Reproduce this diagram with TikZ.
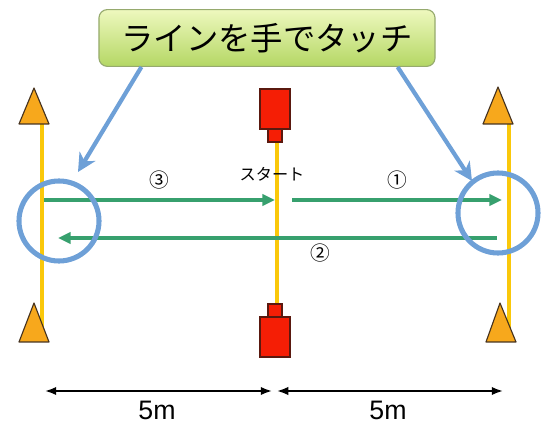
\documentclass[tikz,border=0pt]{standalone}
\usepackage{fontspec}
\setmainfont{Liberation Sans}
\newfontfamily\jpfont{Noto Sans CJK JP}
\usepackage{xcolor}
\usepackage{tikz}
\usetikzlibrary{arrows.meta, positioning, calc}

\definecolor{laneyellow}{RGB}{250,200,10}
\definecolor{coneorange}{RGB}{247,168,28}
\definecolor{conebrown}{RGB}{70,50,30}
\definecolor{markerred}{RGB}{245,30,5}
\definecolor{markerdark}{RGB}{90,25,15}
\definecolor{rungreen}{RGB}{55,160,110}
\definecolor{touchblue}{RGB}{110,160,215}
\definecolor{boxtop}{RGB}{238,248,190}
\definecolor{boxbottom}{RGB}{180,215,100}
\definecolor{boxedge}{RGB}{150,170,110}

\begin{document}
\begin{tikzpicture}[
    x=0.025cm, y=-0.025cm,
    lane/.style={draw=laneyellow, line width=2.8pt},
    cone/.style={fill=coneorange, draw=conebrown, line width=0.8pt, line join=round},
    marker/.style={fill=markerred, draw=markerdark, line width=0.8pt},
    run/.style={-{Triangle[length=9pt,width=8pt]}, draw=rungreen, line width=3pt},
    touch/.style={circle, draw=touchblue, line width=3.6pt, minimum size=2cm, inner sep=0pt},
    pointer/.style={-{Stealth[length=13pt,width=13pt,inset=4pt]}, draw=touchblue, line width=3pt},
    dim/.style={{Latex[length=8pt,width=6pt]}-{Latex[length=8pt,width=6pt]}, line width=1.4pt},
    num/.style={font=\jpfont\fontsize{14}{16}\selectfont},
    callout/.style={draw=boxedge, line width=0.8pt, rounded corners=6pt, top color=boxtop, bottom color=boxbottom,
        minimum width=8.4cm, minimum height=1.42cm, font=\jpfont\fontsize{23}{26}\selectfont}
]
    % background / margins
    \useasboundingbox (0,0) rectangle (541,425);

    % lines to touch
    \draw[lane] (42,124) -- (42,328);
    \draw[lane] (509,124) -- (509,328);
    \draw[lane] (277,142) -- (277,304);

    % cones
    \draw[cone] (19,124) -- (34,88) -- (49,124) -- cycle;
    \draw[cone] (19,342) -- (34,303) -- (49,342) -- cycle;
    \draw[cone] (483,124) -- (498,87) -- (513,124) -- cycle;
    \draw[cone] (486,342) -- (500,303) -- (516,342) -- cycle;

    % start markers
    \draw[marker] (260,89) rectangle (290,129);
    \draw[marker] (268,129) rectangle (282,142);
    \draw[marker] (268,304) rectangle (282,317);
    \draw[marker] (260,317) rectangle (290,357);

    \node[font=\jpfont\fontsize{11.5}{13}\selectfont] (start) at (272,174) {スタート};

    % runs
    \coordinate (l1) at (44,200);
    \coordinate (c1) at (275,200);
    \coordinate (c2) at (292,200);
    \coordinate (r1) at (502,200);
    \coordinate (r2) at (497,238);
    \coordinate (l2) at (58,238);
    \draw[run] (l1) -- node[num, above=3pt] (n3) {③} (c1);
    \draw[run] (c2) -- node[num, above=3pt] (n1) {①} (r1);
    \draw[run] (r2) -- (l2);
    \node[num] (n2) at (320,253) {②};

    % touch zones
    \node[touch] (ltouch) at (59,221) {};
    \node[touch] (rtouch) at (498,213) {};

    % callout
    \node[callout] (title) at (267,38) {ラインを手でタッチ};
    \coordinate (lhit) at (78,172);
    \coordinate (rhit) at (472,181);
    \draw[pointer] ($(title.south west)+(43,0)$) -- (lhit);
    \draw[pointer] ($(title.south east)+(-38,0)$) -- (rhit);

    % distances
    \coordinate (dl) at (45,391);
    \coordinate (dc1) at (272,391);
    \coordinate (dc2) at (277,391);
    \coordinate (dr) at (503,391);
    \draw[dim] (dl) -- (dc1);
    \draw[dim] (dc2) -- (dr);
    \node[font=\fontsize{19}{21}\selectfont, inner sep=1pt] (m1) at (157,410) {5m};
    \node[font=\fontsize{19}{21}\selectfont, inner sep=1pt] (m2) at (388,410) {5m};
\end{tikzpicture}
\end{document}
